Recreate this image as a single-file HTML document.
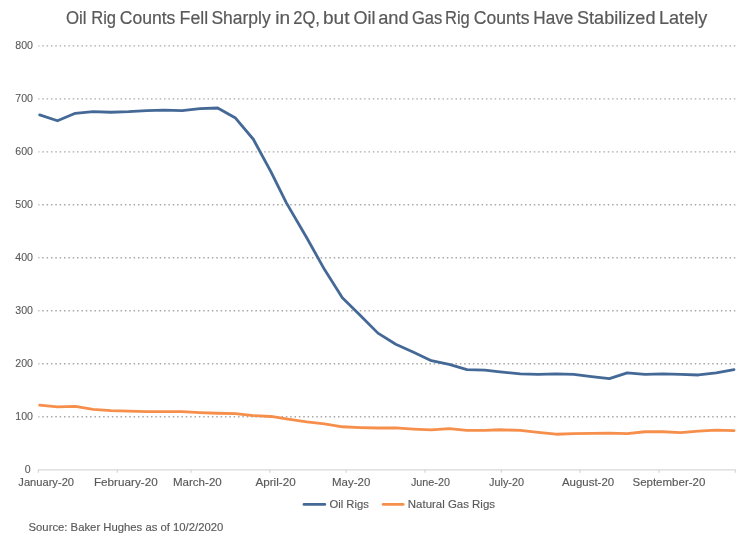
<!DOCTYPE html>
<html><head><meta charset="utf-8"><style>
html,body{margin:0;padding:0;background:#fff;width:750px;height:546px;overflow:hidden}
svg{display:block;will-change:transform}
text{font-family:"Liberation Sans",sans-serif;fill:#595959}
.ax{font-size:11px;stroke:#595959;stroke-width:0.15}
.yl{font-size:11.2px;stroke:#595959;stroke-width:0.1}
.ti{font-size:18px;stroke:#595959;stroke-width:0.2}
</style></head><body>
<svg width="750" height="546" viewBox="0 0 750 546">
<rect width="750" height="546" fill="#fff"/>
<line x1="38.4" y1="416.68" x2="735.3" y2="416.68" stroke="#a8a8a8" stroke-width="1.4" stroke-dasharray="1.5 2.85" stroke-dashoffset="0.5"/>
<line x1="38.4" y1="363.71" x2="735.3" y2="363.71" stroke="#a8a8a8" stroke-width="1.4" stroke-dasharray="1.5 2.85" stroke-dashoffset="0.5"/>
<line x1="38.4" y1="310.74" x2="735.3" y2="310.74" stroke="#a8a8a8" stroke-width="1.4" stroke-dasharray="1.5 2.85" stroke-dashoffset="0.5"/>
<line x1="38.4" y1="257.77" x2="735.3" y2="257.77" stroke="#a8a8a8" stroke-width="1.4" stroke-dasharray="1.5 2.85" stroke-dashoffset="0.5"/>
<line x1="38.4" y1="204.80" x2="735.3" y2="204.80" stroke="#a8a8a8" stroke-width="1.4" stroke-dasharray="1.5 2.85" stroke-dashoffset="0.5"/>
<line x1="38.4" y1="151.83" x2="735.3" y2="151.83" stroke="#a8a8a8" stroke-width="1.4" stroke-dasharray="1.5 2.85" stroke-dashoffset="0.5"/>
<line x1="38.4" y1="98.86" x2="735.3" y2="98.86" stroke="#a8a8a8" stroke-width="1.4" stroke-dasharray="1.5 2.85" stroke-dashoffset="0.5"/>
<line x1="38.4" y1="45.89" x2="735.3" y2="45.89" stroke="#a8a8a8" stroke-width="1.4" stroke-dasharray="1.5 2.85" stroke-dashoffset="0.5"/>
<line x1="38.4" y1="469.9" x2="735.3" y2="469.9" stroke="#d9d9d9" stroke-width="1.4"/>
<line x1="38.40" y1="469.2" x2="38.40" y2="472.8" stroke="#d9d9d9" stroke-width="1.3"/>
<line x1="117.25" y1="469.2" x2="117.25" y2="472.8" stroke="#d9d9d9" stroke-width="1.3"/>
<line x1="191.01" y1="469.2" x2="191.01" y2="472.8" stroke="#d9d9d9" stroke-width="1.3"/>
<line x1="269.85" y1="469.2" x2="269.85" y2="472.8" stroke="#d9d9d9" stroke-width="1.3"/>
<line x1="346.16" y1="469.2" x2="346.16" y2="472.8" stroke="#d9d9d9" stroke-width="1.3"/>
<line x1="425.00" y1="469.2" x2="425.00" y2="472.8" stroke="#d9d9d9" stroke-width="1.3"/>
<line x1="501.30" y1="469.2" x2="501.30" y2="472.8" stroke="#d9d9d9" stroke-width="1.3"/>
<line x1="580.15" y1="469.2" x2="580.15" y2="472.8" stroke="#d9d9d9" stroke-width="1.3"/>
<line x1="659.00" y1="469.2" x2="659.00" y2="472.8" stroke="#d9d9d9" stroke-width="1.3"/>
<line x1="735.30" y1="469.2" x2="735.30" y2="472.8" stroke="#d9d9d9" stroke-width="1.3"/>
<text transform="translate(30.60,472.90) scale(0.95,1)" x="0" y="0" text-anchor="end" class="yl">0</text>
<text transform="translate(33.00,419.93) scale(0.95,1)" x="0" y="0" text-anchor="end" class="yl">100</text>
<text transform="translate(33.00,366.96) scale(0.95,1)" x="0" y="0" text-anchor="end" class="yl">200</text>
<text transform="translate(33.00,313.99) scale(0.95,1)" x="0" y="0" text-anchor="end" class="yl">300</text>
<text transform="translate(33.00,261.02) scale(0.95,1)" x="0" y="0" text-anchor="end" class="yl">400</text>
<text transform="translate(33.00,208.05) scale(0.95,1)" x="0" y="0" text-anchor="end" class="yl">500</text>
<text transform="translate(33.00,155.08) scale(0.95,1)" x="0" y="0" text-anchor="end" class="yl">600</text>
<text transform="translate(33.00,102.11) scale(0.95,1)" x="0" y="0" text-anchor="end" class="yl">700</text>
<text transform="translate(33.00,49.14) scale(0.95,1)" x="0" y="0" text-anchor="end" class="yl">800</text>
<text x="18.33" y="486.00" class="ax" textLength="55.71" lengthAdjust="spacingAndGlyphs">January-20</text>
<text x="93.94" y="486.00" class="ax" textLength="63.72" lengthAdjust="spacingAndGlyphs">February-20</text>
<text x="172.95" y="486.00" class="ax" textLength="48.80" lengthAdjust="spacingAndGlyphs">March-20</text>
<text x="255.48" y="486.00" class="ax" textLength="40.18" lengthAdjust="spacingAndGlyphs">April-20</text>
<text x="332.06" y="486.00" class="ax" textLength="38.29" lengthAdjust="spacingAndGlyphs">May-20</text>
<text x="410.93" y="486.00" class="ax" textLength="38.99" lengthAdjust="spacingAndGlyphs">June-20</text>
<text x="489.03" y="486.00" class="ax" textLength="35.10" lengthAdjust="spacingAndGlyphs">July-20</text>
<text x="561.98" y="486.00" class="ax" textLength="52.17" lengthAdjust="spacingAndGlyphs">August-20</text>
<text x="632.48" y="486.00" class="ax" textLength="72.87" lengthAdjust="spacingAndGlyphs">September-20</text>
<path transform="translate(0,0.45)" d="M39.67,404.65 L57.48,406.50 L75.28,405.97 L93.08,408.88 L110.89,410.10 L128.69,410.69 L146.50,411.22 L164.30,411.22 L182.10,411.22 L199.91,412.12 L217.71,412.80 L235.52,413.12 L253.32,415.24 L271.12,416.04 L286.38,418.42 L306.73,421.33 L324.54,423.40 L342.34,426.31 L360.14,427.11 L377.95,427.53 L395.75,427.48 L413.56,428.59 L431.36,429.38 L449.16,428.11 L466.97,429.91 L484.77,429.91 L500.03,429.28 L520.38,429.91 L538.18,431.98 L555.99,433.78 L573.79,433.09 L591.60,432.99 L609.40,432.77 L627.20,433.25 L645.01,431.29 L662.81,431.29 L680.62,432.19 L698.42,430.71 L716.22,429.60 L734.03,430.18" fill="none" stroke="#f68f4b" stroke-width="2.8" stroke-linejoin="round" stroke-linecap="round"/>
<path d="M39.67,114.90 L57.48,120.73 L75.28,113.31 L93.08,111.72 L110.89,112.25 L128.69,111.72 L146.50,110.66 L164.30,110.13 L182.10,110.66 L199.91,108.54 L217.71,108.01 L235.52,118.08 L253.32,139.27 L271.12,172.11 L286.38,202.83 L306.73,237.79 L324.54,269.57 L342.34,297.65 L360.14,315.13 L377.95,333.14 L395.75,344.26 L413.56,352.21 L431.36,360.68 L449.16,364.39 L466.97,369.69 L484.77,370.22 L500.03,371.81 L520.38,373.92 L538.18,374.45 L555.99,373.92 L573.79,374.45 L591.60,376.57 L609.40,378.69 L627.20,372.86 L645.01,374.45 L662.81,373.92 L680.62,374.45 L698.42,374.98 L716.22,372.86 L734.03,369.69" fill="none" stroke="#456997" stroke-width="2.8" stroke-linejoin="round" stroke-linecap="round"/>
<text x="65.90" y="23.80" class="ti" textLength="20.52" lengthAdjust="spacingAndGlyphs">Oil</text>
<text x="91.23" y="23.80" class="ti" textLength="24.85" lengthAdjust="spacingAndGlyphs">Rig</text>
<text x="119.71" y="23.80" class="ti" textLength="55.63" lengthAdjust="spacingAndGlyphs">Counts</text>
<text x="179.54" y="23.80" class="ti" textLength="28.65" lengthAdjust="spacingAndGlyphs">Fell</text>
<text x="211.41" y="23.80" class="ti" textLength="59.23" lengthAdjust="spacingAndGlyphs">Sharply</text>
<text x="275.16" y="23.80" class="ti" textLength="14.85" lengthAdjust="spacingAndGlyphs">in</text>
<text x="293.23" y="23.80" class="ti" textLength="26.69" lengthAdjust="spacingAndGlyphs">2Q,</text>
<text x="322.99" y="23.80" class="ti" textLength="26.52" lengthAdjust="spacingAndGlyphs">but</text>
<text x="353.55" y="23.80" class="ti" textLength="21.95" lengthAdjust="spacingAndGlyphs">Oil</text>
<text x="378.22" y="23.80" class="ti" textLength="30.45" lengthAdjust="spacingAndGlyphs">and</text>
<text x="411.95" y="23.80" class="ti" textLength="30.37" lengthAdjust="spacingAndGlyphs">Gas</text>
<text x="444.93" y="23.80" class="ti" textLength="24.85" lengthAdjust="spacingAndGlyphs">Rig</text>
<text x="473.81" y="23.80" class="ti" textLength="55.63" lengthAdjust="spacingAndGlyphs">Counts</text>
<text x="533.29" y="23.80" class="ti" textLength="40.07" lengthAdjust="spacingAndGlyphs">Have</text>
<text x="576.98" y="23.80" class="ti" textLength="78.49" lengthAdjust="spacingAndGlyphs">Stabilized</text>
<text x="659.02" y="23.80" class="ti" textLength="48.22" lengthAdjust="spacingAndGlyphs">Lately</text>
<line x1="304" y1="504.4" x2="324.8" y2="504.4" stroke="#456997" stroke-width="2.8" stroke-linecap="round"/>
<text x="329.47" y="507.60" class="ax" textLength="39.34" lengthAdjust="spacingAndGlyphs">Oil Rigs</text>
<line x1="383.2" y1="504.4" x2="403.2" y2="504.4" stroke="#f68f4b" stroke-width="2.8" stroke-linecap="round"/>
<text x="407.86" y="507.60" class="ax" textLength="87.15" lengthAdjust="spacingAndGlyphs">Natural Gas Rigs</text>
<text x="28.54" y="530.50" class="ax" textLength="194.80" lengthAdjust="spacingAndGlyphs">Source: Baker Hughes as of 10/2/2020</text>
</svg>
</body></html>
